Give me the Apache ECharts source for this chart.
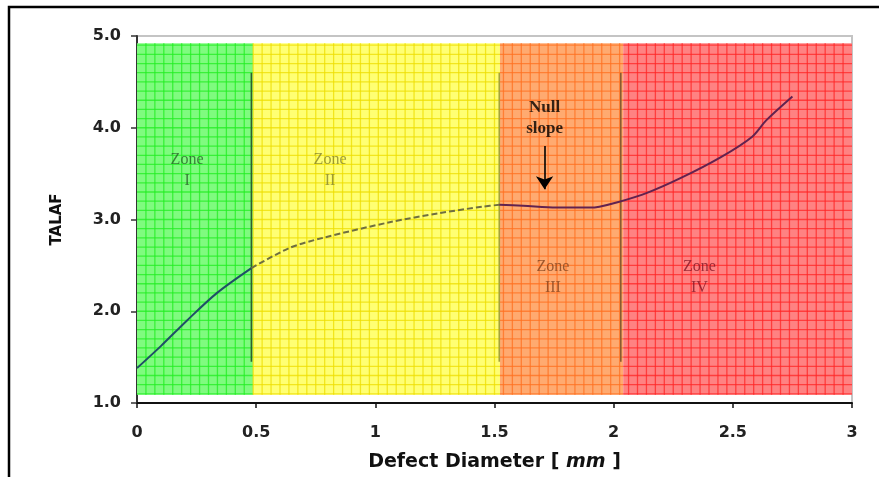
<!DOCTYPE html>
<html><head><meta charset="utf-8">
<script src="https://cdn.jsdelivr.net/npm/echarts@6/dist/echarts.min.js"></script>
<style>html,body{margin:0;padding:0;background:#fff}#c{width:879px;height:477px}</style>
</head><body><div id="c"></div>
<script>
// Data
const xTicks = [0, 0.5, 1, 1.5, 2, 2.5, 3];
const yTicks = ['1.0', '2.0', '3.0', '4.0', '5.0'];
const curveZone1 = [[0,1.38],[0.1,1.62],[0.21,1.90],[0.336,2.20],[0.48,2.47]];
const curveZone2 = [[0.48,2.47],[0.64,2.69],[0.78,2.80],[1.06,2.97],[1.27,3.07],[1.45,3.14],[1.52,3.16]];
const curveZone34 = [[1.52,3.16],[1.62,3.15],[1.76,3.13],[1.90,3.13],[1.94,3.14],[2.02,3.19],[2.14,3.29],[2.28,3.45],[2.45,3.68],[2.58,3.90],[2.64,4.08],[2.75,4.34]];
const zoneNames = ['Zone\nI', 'Zone\nII', 'Zone\nIII', 'Zone\nIV'];
const zoneBounds = [[0, 0.487], [0.487, 1.523], [1.523, 2.04], [2.04, 3]];
const zoneY = [1.09, 4.92];
const zoneLabelPos = [[0.21, 3.535], [0.81, 3.535], [1.745, 2.37], [2.36, 2.37]];
const dividerX = [0.48, 1.52, 2.03];
const dividerY = [1.45, 4.6];
const nullSlopePos = [1.71, 4.10];
const arrowFrom = [1.71, 3.80];
const arrowTo = [1.71, 3.33];

const zoneFill = ['#7ffb7f', '#ffff73', '#ffaa70', '#ff8282'];
const zoneGrid = ['#22ee22', '#eedd00', '#ff7020', '#ff2626'];
const zoneText = ['#2a632a', '#85832a', '#84441e', '#861626'];
const dividerColor = ['#2f5f2f', '#a4a23a', '#8a5a30'];

const chart = echarts.init(document.getElementById('c'));
const gridStepX = 0.0375, gridStepY = 0.1;

function zoneRender(params, api) {
  const x0 = api.value(0), x1 = api.value(1), idx = api.value(2);
  const y0 = zoneY[0], y1 = zoneY[1];
  const tl = api.coord([x0, y1]), br = api.coord([x1, y0]);
  const children = [{
    type: 'rect', shape: {x: tl[0], y: tl[1], width: br[0]-tl[0], height: br[1]-tl[1]},
    style: {fill: zoneFill[idx]}
  }];
  const startK = Math.ceil(x0 / gridStepX + 1e-6);
  for (let k = startK; k * gridStepX < x1 - 1e-6; k++) {
    const px = api.coord([k * gridStepX, y0])[0];
    children.push({type: 'line', shape: {x1: px, y1: tl[1], x2: px, y2: br[1]},
      style: {stroke: zoneGrid[idx], lineWidth: 1.3, opacity: 0.75}});
  }
  for (let k = 1; 1 + k * gridStepY < y1 - 1e-6; k++) {
    const py = api.coord([x0, 1 + k * gridStepY])[1];
    children.push({type: 'line', shape: {x1: tl[0], y1: py, x2: br[0], y2: py},
      style: {stroke: zoneGrid[idx], lineWidth: 1.3, opacity: 0.75}});
  }
  return {type: 'group', children};
}

const sans = 'DejaVu Sans, Verdana, sans-serif';
const serif = 'Liberation Serif, Times New Roman, serif';

const option = {
  animation: false,
  backgroundColor: '#fff',
  grid: {left: 137, right: 27, top: 36, bottom: 74, show: true, borderColor: '#c4c4c4', borderWidth: 2, backgroundColor: 'transparent'},
  xAxis: {
    type: 'value', min: 0, max: 3, interval: 0.5,
    axisLine: {show: true, onZero: false, lineStyle: {color: '#111', width: 2}},
    axisTick: {show: true, length: 5, lineStyle: {color: '#111', width: 1.5}},
    splitLine: {show: false},
    axisLabel: {margin: 22, fontFamily: sans, fontWeight: 'bold', fontSize: 16, color: '#222',
      formatter: v => (xTicks.indexOf(v) >= 0 ? String(v) : '')},
    name: '{a|Defect Diameter [ }{b|mm}{a| ]}', nameLocation: 'middle', nameGap: 50,
    nameTextStyle: {rich: {
      a: {fontFamily: sans, fontWeight: 'bold', fontSize: 19, color: '#111'},
      b: {fontFamily: sans, fontWeight: 'bold', fontStyle: 'italic', fontSize: 19, color: '#111'}
    }}
  },
  yAxis: {
    type: 'value', min: 1, max: 5, interval: 1,
    axisLine: {show: true, onZero: false, lineStyle: {color: '#333', width: 2}},
    axisTick: {show: true, length: 6, lineStyle: {color: '#333', width: 1.5}},
    splitLine: {show: false},
    axisLabel: {margin: 16, fontFamily: sans, fontWeight: 'bold', fontSize: 16, color: '#222',
      formatter: v => yTicks[Math.round(v) - 1]},
    name: 'TALAF', nameLocation: 'middle', nameGap: 72, nameRotate: 90,
    nameTextStyle: {fontFamily: sans, fontWeight: 'bold', fontSize: 15, color: '#111'}
  },
  graphic: [{
    type: 'polyline', shape: {points: [[9, 477], [9, 7], [879, 7]]},
    style: {stroke: '#000', lineWidth: 2.5, fill: null}, silent: true
  }],
  series: [
    {type: 'custom', renderItem: zoneRender, z: 1, silent: true,
      data: zoneBounds.map((b, i) => [b[0], b[1], i])},
    ...dividerX.map((x, i) => ({
      type: 'line', z: 3, showSymbol: false, silent: true,
      data: [[x, dividerY[0]], [x, dividerY[1]]],
      lineStyle: {color: dividerColor[i], width: 1.6}
    })),
    {type: 'line', z: 4, data: curveZone1, smooth: 0.3, showSymbol: false,
      lineStyle: {color: '#1f4f66', width: 2}},
    {type: 'line', z: 4, data: curveZone2, smooth: 0.3, showSymbol: false,
      lineStyle: {color: '#6f6f40', width: 2, type: [6, 3]}},
    {type: 'line', z: 4, data: curveZone34, smooth: 0.3, showSymbol: false,
      lineStyle: {color: '#62224f', width: 2}},
    {type: 'scatter', z: 5, symbolSize: 0, silent: true,
      data: zoneLabelPos.map((p, i) => ({value: p, label: {show: true, position: 'inside',
        formatter: zoneNames[i], fontFamily: serif, fontSize: 16,
        lineHeight: 21, color: zoneText[i]}}))},
    {type: 'scatter', z: 5, symbolSize: 0, silent: true,
      data: [{value: nullSlopePos, label: {show: true, position: 'inside', formatter: 'Null\nslope',
        fontFamily: serif, fontWeight: 'bold', fontSize: 17, lineHeight: 21, color: '#000'}}]},
    {type: 'lines', coordinateSystem: 'cartesian2d', z: 5, silent: true,
      symbol: ['none', 'arrow'], symbolSize: [0, 13],
      lineStyle: {color: '#000', width: 1.6, opacity: 1},
      data: [{coords: [arrowFrom, arrowTo]}]}
  ]
};
chart.setOption(option);
</script></body></html>
